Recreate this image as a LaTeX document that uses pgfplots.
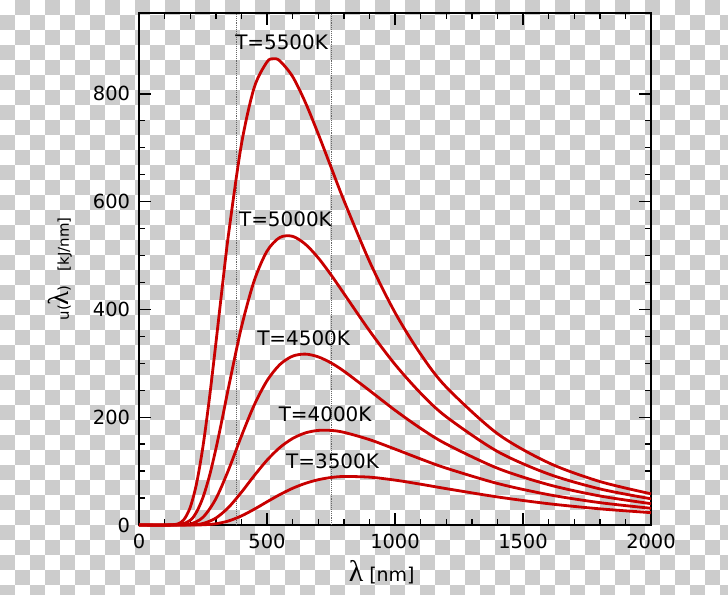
\documentclass[border=0pt]{standalone}
\usepackage{fontspec}
\setmainfont{DejaVu Sans}
\newfontfamily\lamfont{Liberation Serif}
\usepackage{pgfplots}
\pgfplotsset{compat=1.18}
\definecolor{curve}{RGB}{200,0,0}
\definecolor{chk}{RGB}{204,204,204}
\newcommand{\lam}[1]{{\lamfont\fontsize{#1}{#1}\selectfont λ}}
\begin{document}
\begin{tikzpicture}
\useasboundingbox (0,0) rectangle (728bp,595bp);
\begin{scope}[x=1bp,y=1bp]
\clip (0,0) rectangle (728,595);
\fill[white] (0,0) rectangle (728,595);
\foreach \j in {0,...,39}{
  \pgfmathtruncatemacro\s{mod(\j+1,2)}
  \pgfmathtruncatemacro\t{\s+2}
  \foreach \i in {\s,\t,...,48}{
    \fill[chk] ({15*\i},{580-15*\j}) rectangle ++(15,15);
  }
}
\end{scope}
\begin{axis}[
  at={(139bp,70bp)}, anchor=south west,
  scale only axis, width=512bp, height=512bp,
  xmin=0, xmax=2000, ymin=0, ymax=950,
  clip=false,
  axis line style={line width=1.6bp},
  every tick/.style={line width=1.4bp, black},
  major tick length=12bp, minor tick length=6bp,
  tick align=inside,
  xtick={0,500,...,2000}, minor x tick num=4,
  ytick={0,200,...,800}, minor y tick num=3,
  tick label style={font=\fontsize{19.5}{22}\selectfont},
  /pgf/number format/assume math mode=true,
  /pgf/number format/1000 sep={},
  yticklabel style={xshift=-5.5bp},
  xticklabel style={yshift=-6bp},
]
\addplot[densely dotted, gray!80!black, line width=0.9bp] coordinates {(380,0) (380,950)};
\addplot[densely dotted, gray!80!black, line width=0.9bp] coordinates {(750,0) (750,950)};

\addplot[curve, line width=2.8bp, smooth] coordinates {(0,0) (100,0.002) (150,1.76) (175,9.8) (200,32.6) (225,77.3) (250,146.1) (275,234.9) (300,335.9) (325,440.4) (350,540.4) (400,706.1) (450,811.7) (500,859.2) (525,865.0) (550,861.3) (600,832.1) (650,783.9) (700,725.8) (750,664.1) (800,602.7) (900,489.5) (1000,394.2) (1100,317.2) (1200,256.0) (1400,169.6) (1600,115.4) (1800,80.7) (2000,57.9)};
\addplot[curve, line width=2.8bp, smooth] coordinates {(0,0) (150,0.31) (200,8.81) (225,24.2) (250,51.3) (275,90.7) (300,140.4) (325,196.9) (350,255.8) (400,366.9) (450,453.2) (500,508.1) (550,533.5) (600,535.6) (650,521.0) (700,495.7) (750,464.2) (800,429.8) (900,360.7) (1000,298.0) (1100,244.7) (1200,200.9) (1400,136.5) (1600,94.6) (1800,67.0) (2000,48.6)};
\addplot[curve, line width=2.8bp, smooth] coordinates {(0,0) (150,0.01) (200,1.78) (250,14.3) (300,48.4) (350,102.6) (400,164.9) (450,222.5) (500,267.6) (550,297.6) (600,313.3) (650,317.1) (700,312.0) (750,300.8) (800,285.6) (900,249.7) (1000,213.0) (1100,179.4) (1200,150.3) (1400,105.4) (1600,74.8) (1800,53.9) (2000,39.6)};
\addplot[curve, line width=2.8bp, smooth] coordinates {(0,0) (200,0.24) (250,2.89) (300,12.77) (350,32.75) (400,60.7) (450,91.5) (500,120.2) (550,143.7) (600,160.5) (650,170.9) (700,175.5) (750,175.5) (800,172.0) (900,158.5) (1000,140.9) (1100,122.6) (1200,105.5) (1400,77.1) (1600,56.3) (1800,41.5) (2000,31.0)};
\addplot[curve, line width=2.8bp, smooth] coordinates {(0,0) (200,0.02) (250,0.37) (300,2.30) (350,7.55) (400,16.80) (450,29.2) (500,43.0) (550,56.4) (600,68.1) (650,77.3) (700,84.0) (750,88.1) (800,90.0) (900,88.8) (1000,83.3) (1100,75.7) (1200,67.5) (1400,52.1) (1600,39.5) (1800,30.0) (2000,22.9)};

\node[font=\fontsize{20}{24}\selectfont] at (axis cs:557,896) {T=5500K};
\node[font=\fontsize{20}{24}\selectfont] at (axis cs:572,567) {T=5000K};
\node[font=\fontsize{20}{24}\selectfont] at (axis cs:643,347) {T=4500K};
\node[font=\fontsize{20}{24}\selectfont] at (axis cs:727,206) {T=4000K};
\node[font=\fontsize{20}{24}\selectfont] at (axis cs:756,119) {T=3500K};

\node[font=\fontsize{19}{22}\selectfont, anchor=center] at (rel axis cs:0.474,-0.092) {\lam{30}\ [nm]};
\node[font=\fontsize{15}{18}\selectfont, rotate=90, anchor=center] at (rel axis cs:-0.154,0.5) {u(\lam{29})\hspace{14bp}[kJ/nm]};
\end{axis}
\end{tikzpicture}
\end{document}
